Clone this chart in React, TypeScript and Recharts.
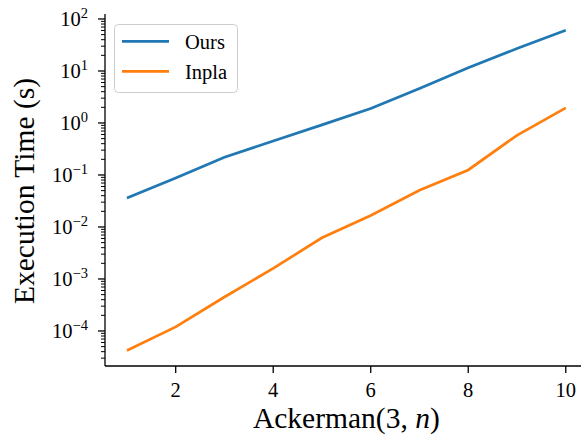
import React from 'react';
import { LineChart, Line, XAxis, YAxis, Legend, Label } from 'recharts';

const nValues = [1, 2, 3, 4, 5, 6, 7, 8, 9, 10];
const oursTimes = [0.036, 0.087, 0.22, 0.45, 0.92, 1.9, 4.6, 11.5, 27, 61];
const inplaTimes = [4.2e-5, 1.2e-4, 4.5e-4, 1.6e-3, 6.2e-3, 0.0166, 0.051, 0.125, 0.58, 1.95];

const xTicks = [2, 4, 6, 8, 10];
const yMajorTicks = [1e-4, 1e-3, 1e-2, 1e-1, 1e0, 1e1, 1e2];
const yMinorMultipliers = [2, 3, 4, 5, 6, 7, 8, 9];
const seriesNames = ['Ours', 'Inpla'];
const seriesColors = ['#1f77b4', '#ff7f0e'];

const xDomain = [0.55, 10.45];
const yDomain = [2.12e-5, 124.7];

const data = nValues.map((n, i) => ({ n, ours: oursTimes[i], inpla: inplaTimes[i] }));

const yTicks: number[] = [];
for (let e = -5; e <= 2; e++) {
  const base = Math.pow(10, e);
  if (base >= yDomain[0] && base <= yDomain[1]) yTicks.push(base);
  for (const m of yMinorMultipliers) {
    const v = m * base;
    if (v >= yDomain[0] && v <= yDomain[1]) yTicks.push(v);
  }
}
yTicks.sort((a, b) => a - b);

const FONT = '"Liberation Serif", "Times New Roman", serif';

const YTick = (props: any) => {
  const { x, y, payload } = props;
  const v = payload.value;
  const lg = Math.log10(v);
  const e = Math.round(lg);
  const major = Math.abs(lg - e) < 1e-6 && yMajorTicks.some((t) => Math.abs(Math.log10(t) - lg) < 1e-6);
  return (
    <g>
      <line x1={x - (major ? 7 : 4)} x2={x} y1={y} y2={y} stroke="#000" strokeWidth={major ? 1.3 : 1} />
      {major && (
        <text x={x - 17} y={y + 7} textAnchor="end" fontFamily={FONT} fontSize={20.5} fill="#000">
          10
          <tspan dy={-8} fontSize={14.5}>{e < 0 ? '\u2212' + -e : String(e)}</tspan>
        </text>
      )}
    </g>
  );
};

const XTick = (props: any) => {
  const { x, y, payload } = props;
  return (
    <g>
      <line x1={x} x2={x} y1={y} y2={y + 7} stroke="#000" strokeWidth={1.3} />
      <text x={x} y={y + 31} textAnchor="middle" fontFamily={FONT} fontSize={20.5} fill="#000">
        {payload.value}
      </text>
    </g>
  );
};

const LegendBox = () => (
  <svg width={125} height={70} style={{ display: 'block' }}>
    <rect x={0.5} y={0.5} width={123} height={68} rx={4} ry={4} fill="#fff" fillOpacity={0.8} stroke="#cccccc" strokeWidth={1} />
    {seriesNames.map((name, i) => (
      <g key={name}>
        <line x1={8} x2={55} y1={17.3 + i * 30} y2={17.3 + i * 30} stroke={seriesColors[i]} strokeWidth={2.7} />
        <text x={71} y={24.7 + i * 30} fontFamily={FONT} fontSize={20.5} fill="#000">
          {name}
        </text>
      </g>
    ))}
  </svg>
);

export default function App() {
  return (
    <div style={{ position: 'absolute', left: 0, top: 0, width: 581, height: 435, overflow: 'hidden', background: '#fff' }}>
      <LineChart width={600} height={435} data={data} margin={{ top: 14, right: 12.3, bottom: 0, left: 0 }}>
        <XAxis
          dataKey="n"
          type="number"
          domain={xDomain}
          ticks={xTicks}
          allowDataOverflow
          height={69}
          tickSize={0}
          tickMargin={0}
          interval={0}
          tick={<XTick />}
          axisLine={{ stroke: '#000', strokeWidth: 1.3 }}
        >
          <Label
            content={(p: any) => {
              const vb = p.viewBox || {};
              const cx = (vb.x || 0) + (vb.width || 0) / 2;
              return (
                <text x={cx} y={428} textAnchor="middle" fontFamily={FONT} fontSize={29.5} fill="#000">
                  Ackerman(3, <tspan fontStyle="italic">n</tspan>)
                </text>
              );
            }}
          />
        </XAxis>
        <XAxis
          xAxisId="top"
          orientation="top"
          dataKey="n"
          type="number"
          domain={xDomain}
          allowDataOverflow
          height={0}
          tick={false}
          tickLine={false}
          axisLine={{ stroke: '#000', strokeWidth: 1.3 }}
        />
        <YAxis
          type="number"
          scale="log"
          domain={yDomain}
          allowDataOverflow
          ticks={yTicks}
          width={105}
          tickSize={0}
          tickMargin={0}
          interval={0}
          tick={<YTick />}
          axisLine={{ stroke: '#000', strokeWidth: 1.3 }}
        >
          <Label
            content={(p: any) => {
              const vb = p.viewBox || {};
              const cy = (vb.y || 0) + (vb.height || 0) / 2 + 1;
              return (
                <text x={33.5} y={cy} transform={`rotate(-90 33.5 ${cy})`} textAnchor="middle" fontFamily={FONT} fontSize={29.5} fill="#000">
                  Execution Time (s)
                </text>
              );
            }}
          />
        </YAxis>
        <Line dataKey="ours" name="Ours" type="linear" stroke={seriesColors[0]} strokeWidth={2.7} dot={false} isAnimationActive={false} />
        <Line dataKey="inpla" name="Inpla" type="linear" stroke={seriesColors[1]} strokeWidth={2.7} dot={false} isAnimationActive={false} />
        <Legend
          layout="vertical"
          align="center"
          verticalAlign="middle"
          content={() => <LegendBox />}
          wrapperStyle={{ left: 114, top: 24, width: 125, height: 70 }}
        />
      </LineChart>
    </div>
  );
}
